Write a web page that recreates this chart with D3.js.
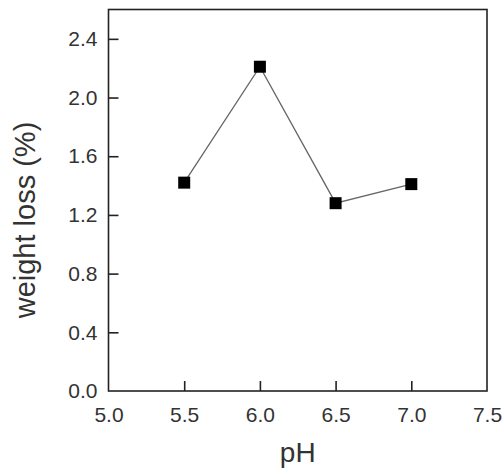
<!DOCTYPE html>
<html>
<head>
<meta charset="utf-8">
<script src="https://cdn.jsdelivr.net/npm/d3@7"></script>
<style>
  body { margin: 0; background: #fff; }
  svg { font-family: "Liberation Sans", Arial, sans-serif; }
</style>
</head>
<body>
<script>
// DATA
var phValues = [5.5, 6.0, 6.5, 7.0];
var weightLoss = [1.42, 2.21, 1.28, 1.41];
var xTicks = [5.0, 5.5, 6.0, 6.5, 7.0, 7.5];
var yTicks = [0.0, 0.4, 0.8, 1.2, 1.6, 2.0, 2.4];

var data = phValues.map((p, i) => ({ph: p, loss: weightLoss[i]}));

// DIMENSIONS
var W = 502, H = 471;
var margin = {top: 9.5, right: 15, bottom: 80, left: 108.5};
var width = 487 - margin.left;
var height = 391 - margin.top;

var svg = d3.select("body")
    .append("svg")
    .attr("width", W)
    .attr("height", H);

var g = svg.append("g")
    .attr("transform", `translate(${margin.left}, ${margin.top})`);

// SCALES
var x = d3.scaleLinear().domain([5.0, 7.5]).range([0, width]);
var y = d3.scaleLinear().domain([0, 2.6]).range([height, 0]);

// FRAME
g.append("rect")
    .attr("x", 0).attr("y", 0)
    .attr("width", width).attr("height", height)
    .attr("fill", "none")
    .attr("stroke", "#222")
    .attr("stroke-width", 1.6);

// AXES (INWARD TICKS)
var xAxis = d3.axisBottom(x)
    .tickValues(xTicks)
    .tickFormat(d3.format(".1f"))
    .tickSizeInner(-10)
    .tickSizeOuter(0)
    .tickPadding(16);
var xg = g.append("g")
    .attr("transform", `translate(0, ${height})`)
    .call(xAxis);

var yAxis = d3.axisLeft(y)
    .tickValues(yTicks)
    .tickFormat(d3.format(".1f"))
    .tickSizeInner(-10)
    .tickSizeOuter(0)
    .tickPadding(11);
var yg = g.append("g").call(yAxis);

[xg, yg].forEach(a => {
    a.select(".domain").remove();
    a.selectAll(".tick line").attr("stroke", "#222").attr("stroke-width", 1.6);
    a.selectAll(".tick text")
        .attr("fill", "#333")
        .style("font-size", "21px")
        .style("font-family", "'Liberation Sans', Arial, sans-serif");
});
// hide end ticks that sit on the frame
xg.selectAll(".tick line").filter(d => d === 5.0 || d === 7.5).remove();
yg.selectAll(".tick line").filter(d => d === 0).remove();

// LINE
var line = d3.line().x(d => x(d.ph)).y(d => y(d.loss));
g.append("path")
    .datum(data)
    .attr("d", line)
    .attr("fill", "none")
    .attr("stroke", "#666")
    .attr("stroke-width", 1.3);

// MARKERS
var s = 12;
g.selectAll("rect.pt")
    .data(data)
    .enter()
    .append("rect")
    .attr("class", "pt")
    .attr("x", d => x(d.ph) - s / 2)
    .attr("y", d => y(d.loss) - s / 2)
    .attr("width", s)
    .attr("height", s)
    .attr("fill", "#000");

// AXIS TITLES
svg.append("text")
    .attr("x", margin.left + width / 2)
    .attr("y", 462)
    .attr("text-anchor", "middle")
    .attr("fill", "#333")
    .style("font-size", "28px")
    .text("pH");

svg.append("text")
    .attr("transform", "rotate(-90)")
    .attr("x", -220)
    .attr("y", 35)
    .attr("text-anchor", "middle")
    .attr("fill", "#333")
    .style("font-size", "29px")
    .text("weight loss (%)");
</script>
</body>
</html>
